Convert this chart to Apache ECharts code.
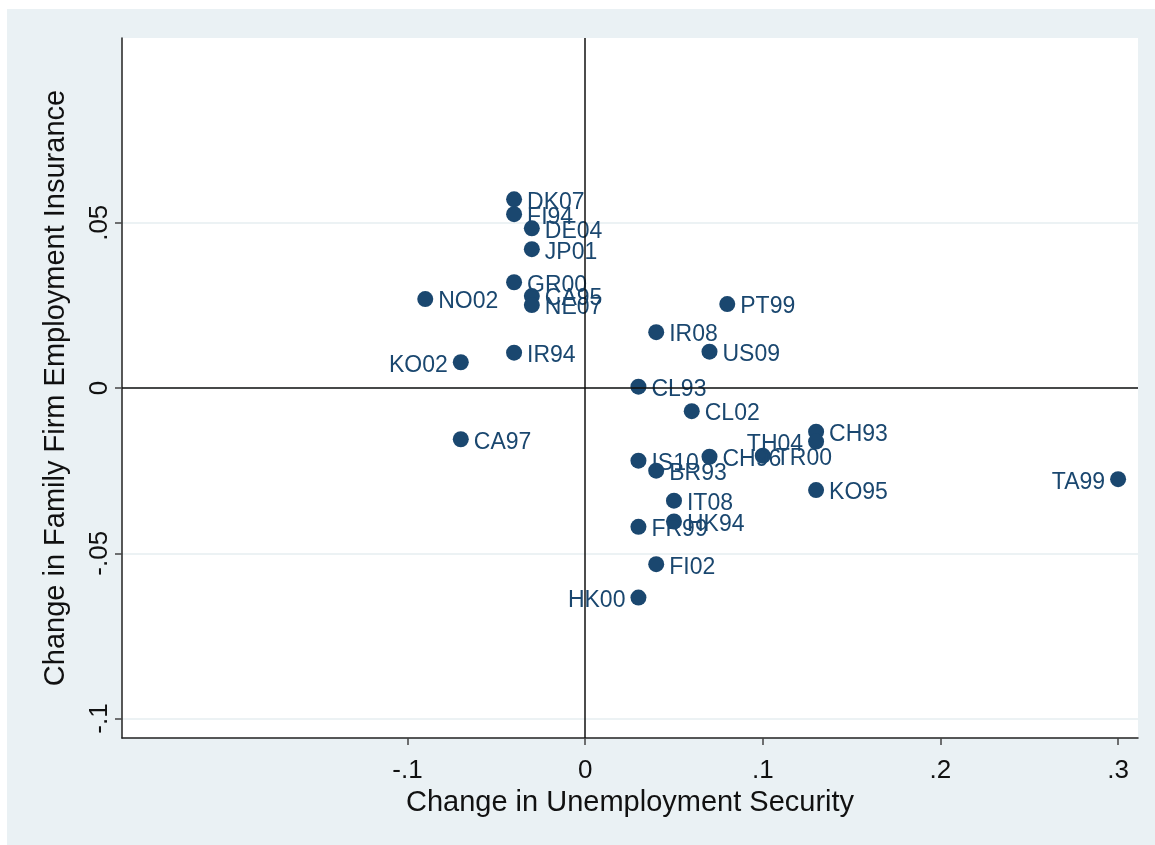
<!DOCTYPE html>
<html><head><meta charset="utf-8">
<script src="https://cdn.jsdelivr.net/npm/echarts@6/dist/echarts.min.js"></script>
<style>
html,body{margin:0;padding:0;background:#fff;width:1155px;height:845px;overflow:hidden}
#c{position:absolute;left:7px;top:9px;width:1148px;height:836px;background:#EAF1F4}
</style>
</head><body><div id="c"></div>
<script>
const names = ['DK07','FI94','DE04','JP01','GR00','CA95','NE07','NO02','IR94','KO02',
  'PT99','IR08','US09','CL93','CL02','CA97','CH93','TH04','IS10','CH96',
  'TR00','BR93','KO95','TA99','IT08','HK94','FR99','FI02','HK00'];
const unemploymentSecurity = [-0.04,-0.04,-0.03,-0.03,-0.04,-0.03,-0.03,-0.09,-0.04,-0.07,
  0.08,0.04,0.07,0.03,0.06,-0.07,0.13,0.13,0.03,0.07,
  0.10,0.04,0.13,0.30,0.05,0.05,0.03,0.04,0.03];
const familyFirmInsurance = [0.0571,0.0526,0.0483,0.0420,0.0320,0.0278,0.0251,0.0269,0.0107,0.0078,
  0.0254,0.0169,0.0110,0.0004,-0.0070,-0.0155,-0.0132,-0.0162,-0.0220,-0.0208,
  -0.0205,-0.0250,-0.0309,-0.0276,-0.0341,-0.0404,-0.0420,-0.0533,-0.0634];
const xTicks = [-0.1,0,0.1,0.2,0.3];
const yTicks = [-0.1,-0.05,0,0.05];
const leftLabeled = ['KO02','TH04','TA99','HK00'];

const FONT = "'Liberation Sans', Arial, Helvetica, sans-serif";
const NAVY = '#1A476F';
const fmt = v => String(+(+v).toFixed(3)).replace(/^(-?)0\./, '$1.');

const points = names.map((n, i) => ({
  name: n,
  value: [unemploymentSecurity[i], familyFirmInsurance[i]],
  label: { position: leftLabeled.includes(n) ? 'left' : 'right' }
}));

const chart = echarts.init(document.getElementById('c'), null, {renderer: 'canvas'});
chart.setOption({
  animation: false,
  backgroundColor: 'transparent',
  grid: { left: 115, right: 17, top: 29, bottom: 107, show: true, backgroundColor: '#ffffff', borderWidth: 0, containLabel: false },
  xAxis: {
    type: 'value', min: -0.2607, max: 0.3112,
    name: 'Change in Unemployment Security', nameLocation: 'middle', nameGap: 48,
    nameTextStyle: { fontSize: 29, color: '#111', fontFamily: FONT },
    axisLine: { show: true, onZero: false, lineStyle: { color: '#222', width: 1.5 } },
    axisTick: { show: true, length: 7, customValues: xTicks, lineStyle: { color: '#444', width: 1.5 } },
    axisLabel: { customValues: xTicks, formatter: fmt, fontSize: 26, color: '#111', fontFamily: FONT, margin: 20 },
    splitLine: { show: false }
  },
  yAxis: {
    type: 'value', min: -0.1059, max: 0.1059,
    name: 'Change in Family Firm Employment Insurance', nameLocation: 'middle', nameGap: 52, nameRotate: 90,
    nameTextStyle: { fontSize: 29, color: '#111', fontFamily: FONT },
    axisLine: { show: true, onZero: false, lineStyle: { color: '#222', width: 1.5 } },
    axisTick: { show: true, length: 7, customValues: yTicks, lineStyle: { color: '#444', width: 1.5 } },
    axisLabel: { customValues: yTicks, formatter: fmt, rotate: 90, fontSize: 26, color: '#111', fontFamily: FONT, margin: 9 },
    splitLine: { show: true, lineStyle: { color: '#E6EEF1', width: 1.5 } }
  },
  series: [
    {
      type: 'scatter', data: [], z: 1, silent: true,
      markLine: {
        silent: true, symbol: ['none','none'], animation: false,
        label: { show: false },
        lineStyle: { color: '#111', width: 1.5, type: 'solid' },
        emphasis: { disabled: true },
        data: [{ xAxis: 0 }, { yAxis: 0 }]
      }
    },
    {
      type: 'scatter', z: 3, symbol: 'circle', symbolSize: 16,
      itemStyle: { color: NAVY, opacity: 1 },
      label: { show: true, formatter: p => p.name, fontSize: 23, color: NAVY, fontFamily: FONT, distance: 5, offset: [0, 3] },
      data: points
    }
  ]
});
</script>
</body></html>
